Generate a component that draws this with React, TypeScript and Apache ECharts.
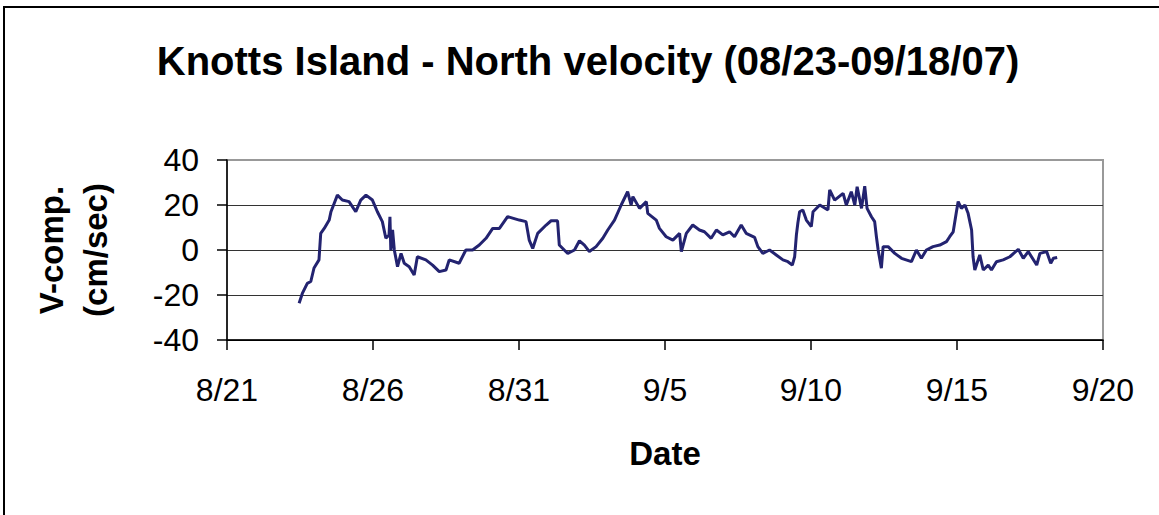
import React, { useEffect, useRef } from "react";
import * as echarts from "echarts";

// Time of each reading, in days after 2007-08-21 00:00
const dayOffsets = [
  2.47, 2.58, 2.75, 2.87, 2.98, 3.15, 3.21, 3.33, 3.5, 3.56, 3.67, 3.78, 3.95, 4.18, 4.41, 4.58,
  4.76, 4.98, 5.15, 5.32, 5.44, 5.55, 5.58, 5.61, 5.67, 5.73, 5.84, 5.96, 6.07, 6.24, 6.41, 6.52,
  6.81, 7.04, 7.27, 7.5, 7.61, 7.95, 8.18, 8.41, 8.64, 8.87, 9.1, 9.33, 9.61, 10.01, 10.24, 10.35,
  10.47, 10.64, 10.93, 11.1, 11.32, 11.38, 11.55, 11.67, 11.9, 12.07, 12.24, 12.41, 12.64, 12.87,
  13.04, 13.27, 13.5, 13.72, 13.84, 13.9, 14.13, 14.36, 14.41, 14.7, 14.81, 15.04, 15.27, 15.5,
  15.56, 15.73, 15.95, 16.18, 16.35, 16.58, 16.76, 16.98, 17.21, 17.38, 17.61, 17.78, 18.07, 18.18,
  18.35, 18.58, 18.81, 19.04, 19.21, 19.36, 19.44, 19.5, 19.55, 19.61, 19.72, 19.84, 20.01, 20.07,
  20.3, 20.58, 20.64, 20.81, 21.1, 21.21, 21.38, 21.5, 21.58, 21.73, 21.84, 21.92, 22.07, 22.18,
  22.24, 22.3, 22.41, 22.47, 22.64, 22.87, 23.1, 23.44, 23.61, 23.78, 23.95, 24.18, 24.41, 24.64,
  24.75, 24.87, 24.98, 25.04, 25.15, 25.27, 25.38, 25.5, 25.55, 25.61, 25.78, 25.9, 26.07, 26.18,
  26.35, 26.58, 26.81, 27.1, 27.27, 27.44, 27.73, 27.84, 28.07, 28.21, 28.3, 28.43,
];

// North velocity component, cm/sec
const northVelocity = [
  -23.7, -19.3, -14.8, -14, -8, -4.4, 7.4, 9.6, 13.3, 17, 20.7, 24.4, 22.2, 21.5, 17, 22.2,
  24.4, 22.2, 17, 12.6, 5.2, 6.7, 14.8, 0, 8.9, 0, -7.4, -1.5, -5.9, -7.4, -11.1, -3,
  -4.4, -6.7, -9.6, -8.9, -4.4, -5.9, 0, 0, 2.2, 5.2, 9.6, 9.6, 14.8, 13.3, 12.6, 4.4,
  0.7, 7.4, 11.1, 13, 13, 2.2, 0, -1.5, 0, 4.1, 2.2, -0.7, 1.5, 5.2,
  8.9, 13.3, 20, 25.9, 20, 23.7, 18.5, 21.5, 16.3, 13.3, 9.6, 5.9, 4.4, 7.4,
  -0.7, 7.4, 11.1, 8.9, 8.1, 5.2, 8.9, 6.7, 8.1, 5.9, 11.1, 7.4, 5.6, 1.5,
  -1.5, 0, -2.2, -4.4, -5.2, -6.7, -3, 6.7, 12, 17, 17.8, 13.3, 10.4, 17,
  20, 17.8, 26.7, 22.2, 25.2, 20, 25.9, 20, 28.1, 18.5, 28.4, 18.5, 14.8, 12.6,
  5.9, 0, -8.1, 1.5, 1.5, -1.5, -3.7, -5.2, 0, -3.7, 0, 1.5, 2.2, 3.7,
  5.9, 8.1, 17, 21.5, 18.5, 20, 16.3, 8.9, -3, -8.9, -2.2, -8.9, -6.7, -8.9,
  -5.2, -4.4, -3, 0.3, -3.7, -0.7, -6.7, -1.5, -0.7, -5.9, -3.7, -3.3,
];

const yTicks = [-40, -20, 0, 20, 40];
const xTickDays = [0, 5, 10, 15, 20, 25, 30];
const baseDate = { year: 2007, month: 7, day: 21 };

const FONT = "'Liberation Sans', Arial, sans-serif";

function dayLabel(v: number): string {
  const d = new Date(baseDate.year, baseDate.month, baseDate.day + Math.round(v));
  return `${d.getMonth() + 1}/${d.getDate()}`;
}

export default function App() {
  const ref = useRef<HTMLDivElement>(null);
  useEffect(() => {
    document.body.style.margin = "0";
    const chart = echarts.init(ref.current!, null, { renderer: "svg" });
    const data = dayOffsets.map((d, i) => [d, northVelocity[i]]);
    chart.setOption({
      animation: false,
      backgroundColor: "#fff",
      title: {
        text: "Knotts Island - North velocity (08/23-09/18/07)",
        left: 583,
        top: 36,
        textAlign: "center",
        textStyle: { fontFamily: FONT, fontSize: 40, fontWeight: "bold", color: "#000" },
      },
      graphic: [
        {
          type: "rect",
          shape: { x: 4, y: 7, width: 1300, height: 700 },
          style: { fill: "none", stroke: "#000", lineWidth: 2 },
          silent: true,
        },
      ],
      grid: {
        left: 227,
        right: 56,
        top: 160,
        bottom: 175,
        show: true,
        borderColor: "#999",
        borderWidth: 2,
        backgroundColor: "#fff",
      },
      xAxis: {
        type: "value",
        min: xTickDays[0],
        max: xTickDays[xTickDays.length - 1],
        interval: 5,
        name: "Date",
        nameLocation: "middle",
        nameGap: 97,
        nameTextStyle: { fontFamily: FONT, fontSize: 33, fontWeight: "bold", color: "#000" },
        axisLine: { show: true, onZero: false, lineStyle: { color: "#000", width: 1.5 } },
        axisTick: { show: true, inside: false, length: 10, lineStyle: { color: "#000", width: 1.5 } },
        axisLabel: {
          formatter: (v: number) => dayLabel(v),
          fontFamily: FONT,
          fontSize: 32,
          color: "#000",
          margin: 34,
        },
        splitLine: { show: false },
      },
      yAxis: {
        type: "value",
        min: yTicks[0],
        max: yTicks[yTicks.length - 1],
        interval: 20,
        name: "V-comp.\n(cm/sec)",
        nameLocation: "middle",
        nameRotate: 90,
        nameGap: 110,
        nameTextStyle: {
          fontFamily: FONT,
          fontSize: 33,
          fontWeight: "bold",
          color: "#000",
          lineHeight: 44,
        },
        axisLine: { show: true, onZero: false, lineStyle: { color: "#000", width: 1.5 } },
        axisTick: { show: true, inside: false, length: 10, lineStyle: { color: "#000", width: 1.5 } },
        axisLabel: { fontFamily: FONT, fontSize: 32, color: "#000", margin: 28 },
        splitLine: {
          show: true,
          lineStyle: { color: ["#000", "#333", "#333", "#333", "#999"], width: 1.2 },
        },
      },
      series: [
        {
          type: "line",
          data,
          showSymbol: false,
          symbol: "none",
          lineStyle: { color: "#232370", width: 3 },
        },
      ],
    });
    return () => chart.dispose();
  }, []);
  return (
    <div
      ref={ref}
      style={{ position: "fixed", left: 0, top: 0, width: 1159, height: 515 }}
    />
  );
}
